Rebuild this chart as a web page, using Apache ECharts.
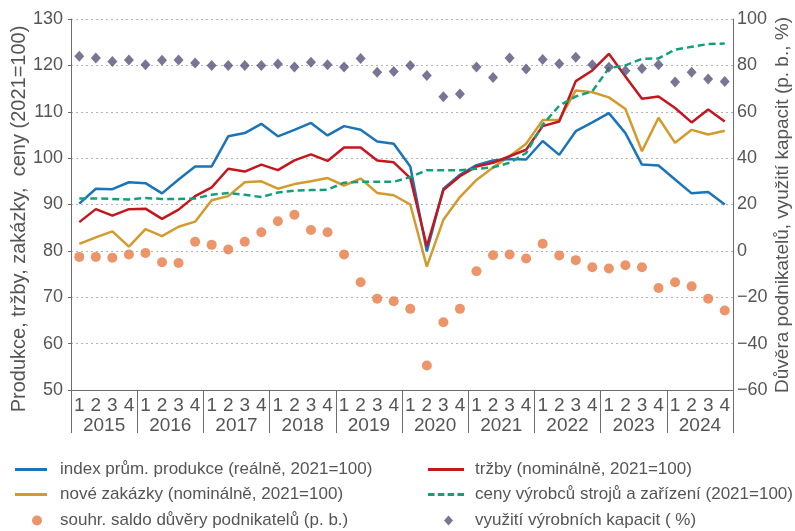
<!DOCTYPE html>
<html>
<head>
<meta charset="utf-8">
<script src="https://cdn.jsdelivr.net/npm/echarts@6/dist/echarts.min.js"></script>
<style>
  html, body { margin: 0; padding: 0; background: #fff; }
  #chart { width: 795px; height: 531px; }
</style>
</head>
<body>
<div id="chart"></div>
<script>
const years = ['2015', '2016', '2017', '2018', '2019', '2020', '2021', '2022', '2023', '2024'];
const quarters = ['1', '2', '3', '4'];

// index prům. produkce (reálně, 2021=100)
const produkce = [
  90.2, 93.4, 93.3, 94.8, 94.6, 92.4, 95.4, 98.2, 98.2, 104.7, 105.4, 107.4,
  104.7, 106.1, 107.6, 104.9, 106.9, 106.1, 103.6, 103.1, 98.2, 79.9, 93.4, 96.4,
  98.5, 99.5, 99.8, 99.7, 103.7, 100.7, 105.8, 107.7, 109.7, 105.4, 98.6, 98.4,
  95.4, 92.4, 92.7, 90.0,
];
// tržby (nominálně, 2021=100)
const trzby = [
  86.2, 89.0, 87.6, 89.0, 89.1, 86.9, 88.9, 91.8, 93.7, 97.7, 97.1, 98.6,
  97.4, 99.5, 100.8, 99.4, 102.3, 102.3, 99.5, 99.1, 95.7, 81.0, 93.1, 96.1,
  98.2, 99.0, 100.4, 101.8, 106.9, 107.9, 116.6, 118.9, 122.5, 117.6, 112.8, 113.3,
  110.8, 107.7, 110.5, 107.9,
];
// nové zakázky (nominálně, 2021=100)
const zakazky = [
  81.5, 82.9, 84.2, 80.9, 84.7, 83.2, 85.2, 86.3, 90.9, 91.8, 94.8, 95.0,
  93.4, 94.4, 95.0, 95.7, 94.1, 95.6, 92.5, 92.0, 90.0, 76.6, 86.7, 91.6,
  95.3, 98.0, 100.4, 103.1, 108.2, 108.3, 114.6, 114.2, 113.1, 110.6, 101.5, 108.7,
  103.3, 106.1, 105.1, 105.9,
];
// ceny výrobců strojů a zařízení (2021=100)
const ceny = [
  91.3, 91.3, 91.2, 91.1, 91.4, 91.2, 91.2, 91.3, 92.1, 92.5, 92.1, 91.6,
  92.6, 93.0, 93.1, 93.2, 94.7, 94.9, 94.9, 94.9, 95.9, 97.4, 97.4, 97.4,
  97.7, 98.0, 99.0, 101.1, 107.2, 111.3, 113.3, 114.4, 119.4, 120.0, 121.4, 121.5,
  123.4, 124.0, 124.6, 124.7,
];
// souhr. saldo důvěry podnikatelů (p. b.) – pravá osa
const saldo = [
  -2.6, -2.6, -3.0, -1.6, -0.9, -4.9, -5.2, 3.9, 2.6, 0.6, 3.9, 8.0,
  12.8, 15.6, 9.0, 8.0, -1.6, -13.5, -20.6, -21.7, -25.0, -49.4, -30.8, -25.0,
  -8.8, -1.9, -1.6, -3.3, 3.1, -2.0, -4.0, -7.1, -7.6, -6.2, -7.1, -16.0,
  -13.5, -15.3, -20.6, -25.7,
];
// využití výrobních kapacit (%) – pravá osa
const kapacity = [
  83.9, 83.2, 81.7, 82.3, 80.3, 82.2, 82.3, 81.0, 79.9, 79.9, 79.9, 80.0,
  80.6, 79.3, 81.3, 80.3, 79.3, 83.0, 77.0, 77.4, 79.9, 75.6, 66.5, 67.7,
  79.3, 74.8, 83.2, 78.4, 82.5, 80.7, 83.5, 80.3, 79.2, 77.7, 78.6, 80.3,
  72.8, 77.0, 74.1, 73.0,
];

const categories = years.flatMap((y) => quarters.map((q) => `${y}-${q}`));

const FONT = "'Liberation Sans', sans-serif";
const AXIS_COLOR = '#6d6d6d';
const TEXT_COLOR = '#555';

const ICON_LINE = 'path://M0,0H32V3H0Z';
const ICON_DASH = 'path://M0,0H6V3H0Z M9,0H15V3H9Z M18,0H24V3H18Z M27,0H33V3H27Z';

function legendItem(name, left, top, icon, iconW, iconH, gap) {
  return {
    data: [{ name, icon }],
    left,
    top,
    padding: 0,
    itemWidth: iconW,
    itemHeight: iconH,
    symbolKeepAspect: false,
    selectedMode: false,
    textStyle: { fontFamily: FONT, fontSize: 17, color: TEXT_COLOR, padding: [0, 0, 0, gap] },
  };
}

const chart = echarts.init(document.getElementById('chart'), null, { renderer: 'canvas' });

chart.setOption({
  animation: false,
  backgroundColor: '#fff',
  textStyle: { fontFamily: FONT },
  grid: { left: 71, right: 62, top: 19, bottom: 141, containLabel: false },
  graphic: [
    {
      type: 'text',
      x: 19,
      y: 219,
      rotation: Math.PI / 2,
      silent: true,
      style: {
        text: 'Produkce, tržby, zakázky,  ceny (2021=100)',
        font: `20px ${FONT}`,
        fill: TEXT_COLOR,
        align: 'center',
        verticalAlign: 'middle',
        textAlign: 'center',
        textVerticalAlign: 'middle',
      },
    },
    {
      type: 'text',
      x: 783,
      y: 205,
      rotation: Math.PI / 2,
      silent: true,
      style: {
        text: 'Důvěra podnikatelů, využití kapacit (p. b., %)',
        font: `19px ${FONT}`,
        fill: TEXT_COLOR,
        align: 'center',
        verticalAlign: 'middle',
        textAlign: 'center',
        textVerticalAlign: 'middle',
      },
    },
  ],
  legend: [
    legendItem('index prům. produkce (reálně, 2021=100)', 15, 461, ICON_LINE, 32, 3, 8),
    legendItem('tržby (nominálně, 2021=100)', 428, 461, ICON_LINE, 36, 3, 6),
    legendItem('nové zakázky (nominálně, 2021=100)', 15, 486, ICON_LINE, 32, 3, 8),
    legendItem('ceny výrobců strojů a zařízení (2021=100)', 428, 486, ICON_DASH, 36, 3, 6),
    legendItem('souhr. saldo důvěry podnikatelů (p. b.)', 32, 512, 'circle', 10, 10, 13),
    legendItem('využití výrobních kapacit ( %)', 444, 512, 'diamond', 9, 10, 17),
  ],
  xAxis: [
    {
      type: 'category',
      position: 'bottom',
      data: categories,
      boundaryGap: true,
      axisLine: { onZero: false, lineStyle: { color: AXIS_COLOR, width: 1 } },
      axisTick: { show: false },
      axisLabel: {
        interval: 0,
        margin: 6,
        color: TEXT_COLOR,
        fontFamily: FONT,
        fontSize: 19,
        formatter: (v) => v.split('-')[1],
      },
      splitLine: { show: false },
    },
    {
      type: 'category',
      position: 'bottom',
      data: years,
      boundaryGap: true,
      axisLine: { show: false, onZero: false },
      axisTick: { show: true, interval: 0, length: 43, lineStyle: { color: AXIS_COLOR, width: 1 } },
      axisLabel: { interval: 0, margin: 26, color: TEXT_COLOR, fontFamily: FONT, fontSize: 19 },
      splitLine: { show: false },
    },
  ],
  yAxis: [
    {
      type: 'value',
      position: 'left',
      min: 50,
      max: 130,
      interval: 10,
      axisLine: { show: true, onZero: false, lineStyle: { color: AXIS_COLOR, width: 1 } },
      axisTick: { show: true, length: 3, lineStyle: { color: AXIS_COLOR } },
      axisLabel: { margin: 8, color: TEXT_COLOR, fontFamily: FONT, fontSize: 18 },
      splitLine: { show: true, lineStyle: { color: '#b4b4b4', type: [2, 3], width: 1 } },
    },
    {
      type: 'value',
      position: 'right',
      min: -60,
      max: 100,
      interval: 20,
      axisLine: { show: true, onZero: false, lineStyle: { color: AXIS_COLOR, width: 1 } },
      axisTick: { show: false },
      axisLabel: {
        margin: 4,
        color: TEXT_COLOR,
        fontFamily: FONT,
        fontSize: 18,
        formatter: (v) => String(v).replace('-', '\u2212'),
      },
      splitLine: { show: false },
    },
  ],
  series: [
    {
      name: 'index prům. produkce (reálně, 2021=100)',
      type: 'line',
      data: produkce,
      symbol: 'none',
      color: '#1a74ba',
      lineStyle: { width: 2.5 },
      z: 3,
    },
    {
      name: 'tržby (nominálně, 2021=100)',
      type: 'line',
      data: trzby,
      symbol: 'none',
      color: '#c4161c',
      lineStyle: { width: 2.5 },
      z: 4,
    },
    {
      name: 'nové zakázky (nominálně, 2021=100)',
      type: 'line',
      data: zakazky,
      symbol: 'none',
      color: '#d39a2c',
      lineStyle: { width: 2.5 },
      z: 2,
    },
    {
      name: 'ceny výrobců strojů a zařízení (2021=100)',
      type: 'line',
      data: ceny,
      symbol: 'none',
      color: '#12a07b',
      lineStyle: { width: 2.5, type: [7, 4] },
      z: 5,
    },
    {
      name: 'souhr. saldo důvěry podnikatelů (p. b.)',
      type: 'scatter',
      yAxisIndex: 1,
      data: saldo,
      symbol: 'circle',
      symbolSize: 10,
      color: '#e77b46',
      z: 6,
    },
    {
      name: 'využití výrobních kapacit ( %)',
      type: 'scatter',
      yAxisIndex: 1,
      data: kapacity,
      symbol: 'diamond',
      symbolSize: [10, 11],
      color: '#57527a',
      z: 6,
    },
  ],
});
</script>
</body>
</html>
